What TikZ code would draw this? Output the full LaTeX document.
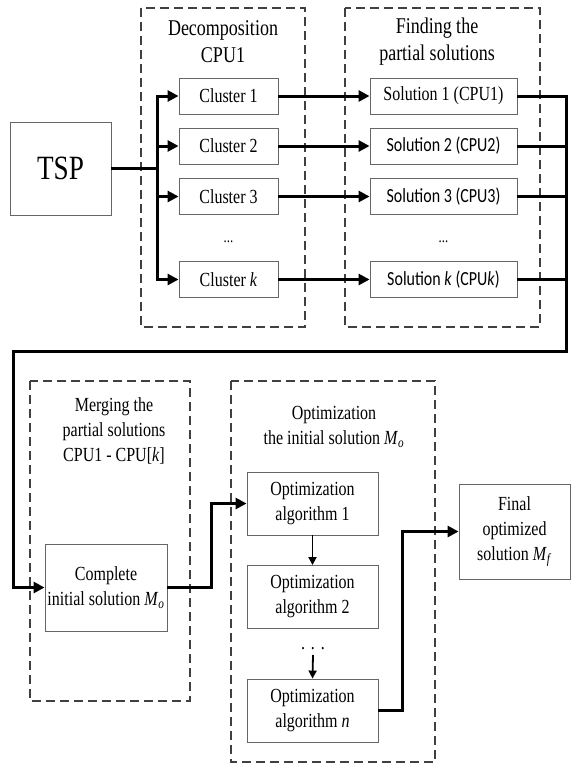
\documentclass[tikz,border=0pt]{standalone}
\usepackage{fontspec}
\setmainfont{Liberation Serif}[FakeStretch=0.8]
\newfontfamily\calibri{Carlito}[FakeStretch=0.8]
\usetikzlibrary{arrows.meta}
\begin{document}
\begin{tikzpicture}[x=1pt,y=-1pt,
  box/.style={draw=black!60, line width=0.9pt, fill=white, inner sep=0pt, align=center,
    font=\fontsize{20}{25}\selectfont},
  group/.style={draw=black!75, line width=1.4pt, dash pattern=on 9pt off 5pt},
  ttl/.style={align=center, inner sep=0pt},
  conn/.style={line width=3pt, line cap=butt},
  arr/.style={conn, -{Triangle[length=11pt,width=11pt]}},
  tarr/.style={line width=1.8pt, -{Triangle[length=8pt,width=8pt]}}
]
\useasboundingbox (0,0) rectangle (571,764);

% group frames
\draw[group] (141,8) rectangle (305,327);
\draw[group] (345,8) rectangle (540,327);
\draw[group] (30,381) rectangle (190,701);
\draw[group] (231,381) rectangle (435,762);

% titles
\node[ttl, font=\fontsize{22.5}{27}\selectfont] (t1) at (223,42) {Decomposition\\CPU1};
\node[ttl, font=\fontsize{22.5}{27}\selectfont] (t2) at (437,42) {Finding the\\partial solutions};
\node[ttl, font=\fontsize{20}{25}\selectfont] (t3) at (114,431) {Merging the\\partial solutions\\CPU1 - CPU[\textit{k}]};
\node[ttl, font=\fontsize{20}{25}\selectfont] (t4) at (334,427) {Optimization\\the initial solution \textit{M}\textsubscript{\textit{o}}};

% nodes
\node[box, minimum width=101pt, minimum height=93pt, font=\fontsize{34}{36}\selectfont] (tsp) at (60.5,168.5) {TSP};

\node[box, minimum width=99pt, minimum height=36pt] (c1) at (228.5,96) {Cluster 1};
\node[box, minimum width=99pt, minimum height=36pt] (c2) at (228.5,146) {Cluster 2};
\node[box, minimum width=99pt, minimum height=36pt] (c3) at (228.5,196.5) {Cluster 3};
\node[ttl, font=\fontsize{16}{16}\selectfont] (cd) at (228.5,242) {...};
\node[box, minimum width=99pt, minimum height=36pt] (ck) at (228.5,279.5) {Cluster \textit{k}};

\node[box, minimum width=147pt, minimum height=36pt] (s1) at (443.5,96) {Solution 1 (CPU1)};
\node[box, minimum width=147pt, minimum height=36pt, font=\calibri\fontsize{20}{24}\selectfont] (s2) at (443.5,146) {Solution 2 (CPU2)};
\node[box, minimum width=147pt, minimum height=36pt, font=\calibri\fontsize{20}{24}\selectfont] (s3) at (443.5,196.5) {Solution 3 (CPU3)};
\node[ttl, font=\fontsize{16}{16}\selectfont] (sd) at (443.5,242) {...};
\node[box, minimum width=147pt, minimum height=36pt, font=\calibri\fontsize{20}{24}\selectfont] (sk) at (443.5,279.5) {Solution \textit{k} (CPU\textit{k})};

\node[box, minimum width=122pt, minimum height=87pt] (comp) at (106,587.5) {Complete\\initial solution \textit{M}\textsubscript{\textit{o}}};

\node[box, minimum width=131pt, minimum height=63pt] (a1) at (312.5,503.5) {Optimization\\algorithm 1};
\node[box, minimum width=131pt, minimum height=63pt] (a2) at (312.5,597) {Optimization\\algorithm 2};
\node[ttl, font=\fontsize{20}{20}\selectfont] (ad) at (313,649) {.\hspace{6pt}.\hspace{6pt}.};
\node[box, minimum width=131pt, minimum height=63pt] (an) at (312.5,710.5) {Optimization\\algorithm \textit{n}};

\node[box, minimum width=111pt, minimum height=95pt] (fin) at (514.5,531.5) {Final\\optimized\\solution \textit{M}\textsubscript{\textit{f}}};

% helper coordinates
\coordinate (split) at (157,168.5);
\coordinate (rc) at (566,351);
\coordinate (lc) at (13,351);
\coordinate (dtop) at (313,655);

% connectors
\draw[conn] (tsp.east) -- (split);
\draw[arr] (split) |- (c1.west);
\draw[arr] (split) |- (c2.west);
\draw[arr] (split) |- (c3.west);
\draw[arr] (split) |- (ck.west);

\draw[arr] (c1) -- (s1);
\draw[arr] (c2) -- (s2);
\draw[arr] (c3) -- (s3);
\draw[arr] (ck) -- (sk);

\draw[conn] (s2.east) -| (rc);
\draw[conn] (s3.east) -| (rc);
\draw[conn] (sk.east) -| (rc);
\draw[arr, line join=miter] (s1.east) -| (rc) -- (lc) |- (comp.west);

\draw[arr, line join=miter] (comp.east) -- ++(44,0) |- (a1.west);
\draw[tarr] (a1) -- (a2);
\draw[tarr] (dtop) -- (an.north);
\draw[arr, line join=miter] (an.east) -- ++(24,0) |- (fin.west);
\end{tikzpicture}
\end{document}
